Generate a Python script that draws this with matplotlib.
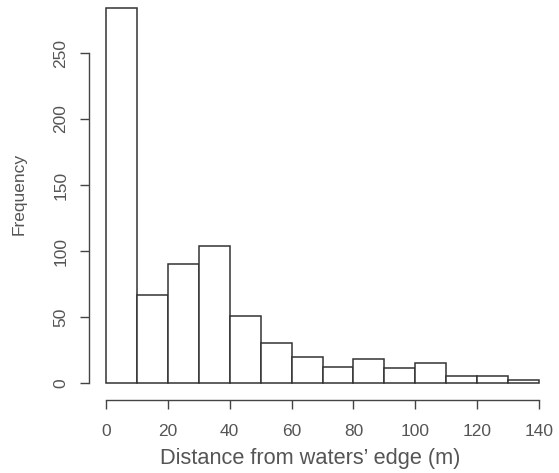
import matplotlib.pyplot as plt
import numpy as np

plt.rcParams['font.family'] = ['Liberation Sans', 'DejaVu Sans']

# histogram bins (m) and counts per bin
bin_edges = [0, 10, 20, 30, 40, 50, 60, 70, 80, 90, 100, 110, 120, 130, 140]
counts = [284, 67, 90, 104, 51, 30, 20, 12, 18, 11, 15, 5, 5, 2]
xticks = [0, 20, 40, 60, 80, 100, 120, 140]
yticks = [0, 50, 100, 150, 200, 250]

W, H = 559, 473
fig = plt.figure(figsize=(W / 100, H / 100), dpi=100)
# axes box in pixels: left 88.7, right 556.3, top 0, bottom 400
ax = fig.add_axes([88.7 / W, (H - 400) / H, (556.3 - 88.7) / W, 400 / H])

edges = np.array(bin_edges)
ax.bar(edges[:-1], counts, width=np.diff(edges), align='edge',
       facecolor='white', edgecolor='#333333', linewidth=1.1)

ax.set_xlim(-5.6, 145.6)
ax.set_ylim(-12.9, 290.2)

text_col = '#555555'
for s in ['top', 'right']:
    ax.spines[s].set_visible(False)
ax.spines['left'].set_bounds(0, 250)
ax.spines['bottom'].set_bounds(0, 140)
for s in ['left', 'bottom']:
    ax.spines[s].set_color('#444444')
    ax.spines[s].set_linewidth(1.0)

ax.set_xticks(xticks)
ax.set_yticks(yticks)
ax.tick_params(axis='both', direction='out', length=6.5, width=1.0,
               color='#444444', labelcolor=text_col, labelsize=12.5)
ax.tick_params(axis='x', pad=11)
ax.tick_params(axis='y', pad=8)
for lab in ax.get_yticklabels():
    lab.set_rotation(90)
    lab.set_va('center')

fig.text(19 / W, 1 - 194 / H, 'Frequency', rotation=90, ha='center',
         va='center', color=text_col, fontsize=12.5)
fig.text(310 / W, 1 - 458 / H, 'Distance from waters\u2019 edge (m)',
         ha='center', va='center', color=text_col, fontsize=15.7)

fig.savefig('out.png', dpi=100)
